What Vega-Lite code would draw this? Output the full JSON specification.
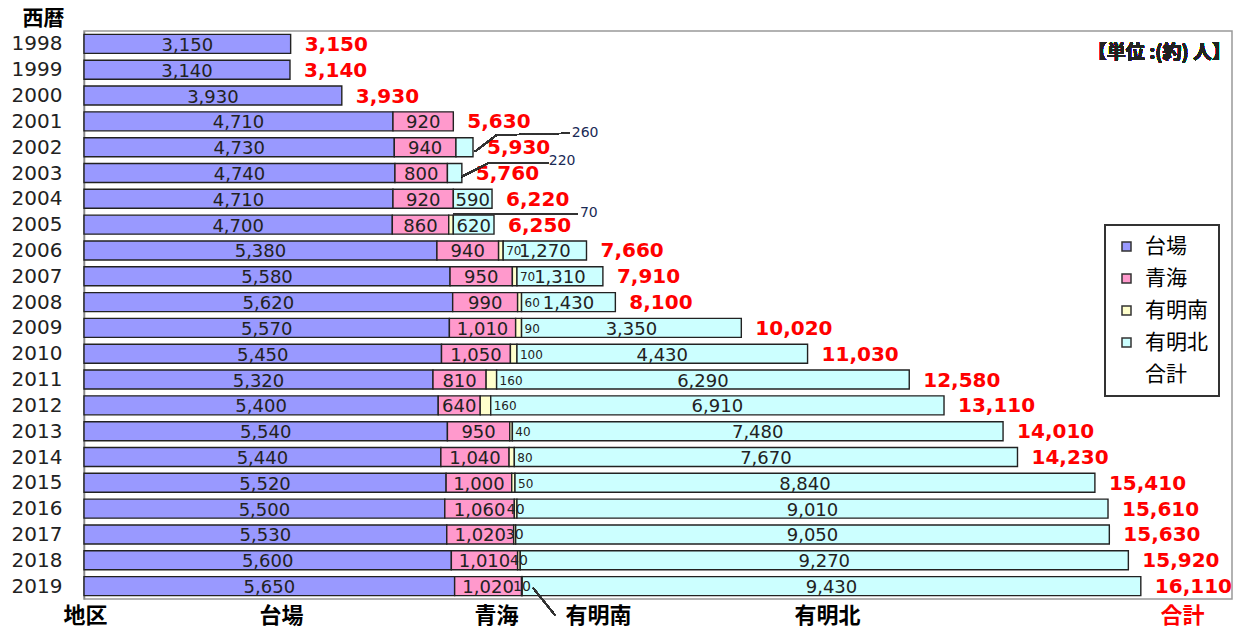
{
  "$schema": "https://vega.github.io/schema/vega-lite/v6.json",
  "width": 1148,
  "height": 568,
  "autosize": "none",
  "padding": {"left": 84, "top": 31, "right": 11, "bottom": 28},
  "background": "white",
  "config": {"view": {"stroke": "#999", "strokeWidth": 1.5}},
  "datasets": {
    "main": [
      {"year": 1998, "area": "台場", "value": 3150},
      {"year": 1999, "area": "台場", "value": 3140},
      {"year": 2000, "area": "台場", "value": 3930},
      {"year": 2001, "area": "台場", "value": 4710},
      {"year": 2001, "area": "青海", "value": 920},
      {"year": 2002, "area": "台場", "value": 4730},
      {"year": 2002, "area": "青海", "value": 940},
      {"year": 2002, "area": "有明北", "value": 260},
      {"year": 2003, "area": "台場", "value": 4740},
      {"year": 2003, "area": "青海", "value": 800},
      {"year": 2003, "area": "有明北", "value": 220},
      {"year": 2004, "area": "台場", "value": 4710},
      {"year": 2004, "area": "青海", "value": 920},
      {"year": 2004, "area": "有明北", "value": 590},
      {"year": 2005, "area": "台場", "value": 4700},
      {"year": 2005, "area": "青海", "value": 860},
      {"year": 2005, "area": "有明南", "value": 70},
      {"year": 2005, "area": "有明北", "value": 620},
      {"year": 2006, "area": "台場", "value": 5380},
      {"year": 2006, "area": "青海", "value": 940},
      {"year": 2006, "area": "有明南", "value": 70},
      {"year": 2006, "area": "有明北", "value": 1270},
      {"year": 2007, "area": "台場", "value": 5580},
      {"year": 2007, "area": "青海", "value": 950},
      {"year": 2007, "area": "有明南", "value": 70},
      {"year": 2007, "area": "有明北", "value": 1310},
      {"year": 2008, "area": "台場", "value": 5620},
      {"year": 2008, "area": "青海", "value": 990},
      {"year": 2008, "area": "有明南", "value": 60},
      {"year": 2008, "area": "有明北", "value": 1430},
      {"year": 2009, "area": "台場", "value": 5570},
      {"year": 2009, "area": "青海", "value": 1010},
      {"year": 2009, "area": "有明南", "value": 90},
      {"year": 2009, "area": "有明北", "value": 3350},
      {"year": 2010, "area": "台場", "value": 5450},
      {"year": 2010, "area": "青海", "value": 1050},
      {"year": 2010, "area": "有明南", "value": 100},
      {"year": 2010, "area": "有明北", "value": 4430},
      {"year": 2011, "area": "台場", "value": 5320},
      {"year": 2011, "area": "青海", "value": 810},
      {"year": 2011, "area": "有明南", "value": 160},
      {"year": 2011, "area": "有明北", "value": 6290},
      {"year": 2012, "area": "台場", "value": 5400},
      {"year": 2012, "area": "青海", "value": 640},
      {"year": 2012, "area": "有明南", "value": 160},
      {"year": 2012, "area": "有明北", "value": 6910},
      {"year": 2013, "area": "台場", "value": 5540},
      {"year": 2013, "area": "青海", "value": 950},
      {"year": 2013, "area": "有明南", "value": 40},
      {"year": 2013, "area": "有明北", "value": 7480},
      {"year": 2014, "area": "台場", "value": 5440},
      {"year": 2014, "area": "青海", "value": 1040},
      {"year": 2014, "area": "有明南", "value": 80},
      {"year": 2014, "area": "有明北", "value": 7670},
      {"year": 2015, "area": "台場", "value": 5520},
      {"year": 2015, "area": "青海", "value": 1000},
      {"year": 2015, "area": "有明南", "value": 50},
      {"year": 2015, "area": "有明北", "value": 8840},
      {"year": 2016, "area": "台場", "value": 5500},
      {"year": 2016, "area": "青海", "value": 1060},
      {"year": 2016, "area": "有明南", "value": 40},
      {"year": 2016, "area": "有明北", "value": 9010},
      {"year": 2017, "area": "台場", "value": 5530},
      {"year": 2017, "area": "青海", "value": 1020},
      {"year": 2017, "area": "有明南", "value": 30},
      {"year": 2017, "area": "有明北", "value": 9050},
      {"year": 2018, "area": "台場", "value": 5600},
      {"year": 2018, "area": "青海", "value": 1010},
      {"year": 2018, "area": "有明南", "value": 40},
      {"year": 2018, "area": "有明北", "value": 9270},
      {"year": 2019, "area": "台場", "value": 5650},
      {"year": 2019, "area": "青海", "value": 1020},
      {"year": 2019, "area": "有明南", "value": 10},
      {"year": 2019, "area": "有明北", "value": 9430}
    ]
  },
  "data": {"name": "main"},
  "transform": [
    {"calculate": "indexof(['台場','青海','有明南','有明北'], datum.area)", "as": "o"},
    {"stack": "value", "groupby": ["year"], "sort": [{"field": "o", "order": "ascending"}], "as": ["x0", "x1"]},
    {"calculate": "(datum.x0 + datum.x1) / 2", "as": "xm"}
  ],
  "encoding": {
    "y": {
      "field": "year",
      "type": "quantitative",
      "scale": {"domain": [1997.5, 2019.5], "reverse": true, "nice": false, "zero": false, "padding": 0},
      "axis": {
        "values": [1998, 1999, 2000, 2001, 2002, 2003, 2004, 2005, 2006, 2007, 2008, 2009, 2010, 2011, 2012, 2013, 2014, 2015, 2016, 2017, 2018, 2019],
        "format": "d",
        "title": "西暦",
        "titleAngle": 0,
        "titleAlign": "left",
        "titleBaseline": "middle",
        "titleX": -62,
        "titleY": -13,
        "titleFont": "Noto Sans CJK JP",
        "titleFontSize": 21,
        "titleFontWeight": "bold",
        "titleColor": "#000",
        "labelFont": "DejaVu Sans",
        "labelFontSize": 20,
        "labelColor": "#222",
        "ticks": false,
        "labelPadding": 22,
        "domainColor": "#888",
        "domainWidth": 1.5,
        "grid": false,
        "labelOverlap": false,
        "labelFlush": false
      }
    }
  },
  "layer": [
    {
      "mark": {"type": "bar", "size": 19, "stroke": "#222", "strokeWidth": 1.4},
      "encoding": {
        "x": {
          "field": "x0",
          "type": "quantitative",
          "scale": {"domain": [0, 17500], "nice": false, "zero": true},
          "axis": {
            "values": [15, 3003, 6280, 7835, 11326, 16738],
            "labelExpr": "datum.value < 1000 ? '地区' : datum.value < 5000 ? '台場' : datum.value < 7000 ? '青海' : datum.value < 9000 ? '有明南' : datum.value < 14000 ? '有明北' : '合計'",
            "title": null,
            "domain": false,
            "ticks": false,
            "grid": false,
            "labelFont": "Noto Sans CJK JP",
            "labelFontSize": 22,
            "labelFontWeight": "bold",
            "labelColor": {"condition": {"test": "datum.value > 16000", "value": "#ff0000"}, "value": "#000"},
            "labelPadding": 6,
            "labelOverlap": false,
            "labelFlush": false,
            "labelBound": false
          }
        },
        "x2": {"field": "x1"},
        "fill": {
          "field": "area",
          "type": "nominal",
          "scale": {
            "domain": ["台場", "青海", "有明南", "有明北", "合計"],
            "range": ["#9999FF", "#FF99CC", "#FFFFCC", "#CCFFFF", "#FFFFFF"]
          },
          "legend": {
            "orient": "none",
            "legendX": 1021,
            "legendY": 194,
            "title": null,
            "symbolType": "square",
            "symbolSize": 81,
            "symbolStrokeColor": "#333",
            "symbolStrokeWidth": 1.5,
            "labelFont": "Noto Sans CJK JP",
            "labelFontSize": 21,
            "labelColor": "#000",
            "labelOffset": 8,
            "rowPadding": 10,
            "padding": 11,
            "strokeColor": "#333",
            "labelExpr": "datum.label + '\u3000'",
            "encode": {
              "symbols": {"update": {"opacity": {"signal": "datum.value === '合計' ? 0 : 1"}}},
              "legend": {"update": {"strokeWidth": {"value": 2}}}
            }
          }
        }
      }
    },
    {
      "transform": [{"filter": "datum.area == '台場' || datum.area == '青海' || (datum.area == '有明北' && datum.year >= 2004)"}],
      "mark": {"type": "text", "font": "DejaVu Sans", "fontSize": 18, "fill": "#222", "dy": 2, "baseline": "middle", "align": "center"},
      "encoding": {
        "x": {"field": "xm", "type": "quantitative"},
        "text": {"field": "value", "type": "quantitative", "format": ","}
      }
    },
    {
      "transform": [{"filter": "datum.area == '有明南' && datum.year >= 2006 && datum.year <= 2015"}],
      "mark": {"type": "text", "font": "DejaVu Sans", "fontSize": 12, "fill": "#222", "dx": 3, "dy": 1, "baseline": "middle", "align": "left"},
      "encoding": {
        "x": {"field": "x1", "type": "quantitative"},
        "text": {"field": "value", "type": "quantitative", "format": ","}
      }
    },
    {
      "transform": [{"filter": "datum.area == '有明南' && datum.year >= 2016"}],
      "mark": {"type": "text", "font": "DejaVu Sans", "fontSize": 14, "fill": "#222", "dy": 1, "baseline": "middle", "align": "center"},
      "encoding": {
        "x": {"field": "xm", "type": "quantitative"},
        "text": {"field": "value", "type": "quantitative", "format": ","}
      }
    },
    {
      "transform": [{"aggregate": [{"op": "sum", "field": "value", "as": "total"}], "groupby": ["year"]}],
      "mark": {"type": "text", "font": "DejaVu Sans", "fontSize": 20, "fontWeight": "bold", "fill": "#ff0000", "dx": 14, "dy": 1, "baseline": "middle", "align": "left"},
      "encoding": {
        "x": {"field": "total", "type": "quantitative"},
        "text": {"field": "total", "type": "quantitative", "format": ","}
      }
    },
    {
      "mark": {"type": "rule", "stroke": "#333", "strokeWidth": 1.2},
      "encoding": {"x": {"datum": 5960}, "y": {"datum": 2002.17}, "x2": {"datum": 6291}, "y2": {"datum": 2001.53}}
    },
    {
      "mark": {"type": "rule", "stroke": "#333", "strokeWidth": 1.2},
      "encoding": {"x": {"datum": 6291}, "y": {"datum": 2001.53}, "x2": {"datum": 7409}, "y2": {"datum": 2001.46}}
    },
    {
      "mark": {"type": "rule", "stroke": "#333", "strokeWidth": 1.2},
      "encoding": {"x": {"datum": 5758}, "y": {"datum": 2003.14}, "x2": {"datum": 6163}, "y2": {"datum": 2002.62}}
    },
    {
      "mark": {"type": "rule", "stroke": "#333", "strokeWidth": 1.2},
      "encoding": {"x": {"datum": 6163}, "y": {"datum": 2002.62}, "x2": {"datum": 7078}, "y2": {"datum": 2002.62}}
    },
    {
      "mark": {"type": "rule", "stroke": "#333", "strokeWidth": 1.2},
      "encoding": {"x": {"datum": 5625}, "y": {"datum": 2004.59}, "x2": {"datum": 7530}, "y2": {"datum": 2004.59}}
    },
    {
      "mark": {"type": "rule", "stroke": "#333", "strokeWidth": 1.2},
      "encoding": {"x": {"datum": 6845}, "y": {"datum": 2019.07}, "x2": {"datum": 7180}, "y2": {"datum": 2020.12}}
    },
    {
      "transform": [{"filter": "datum.year == 2002 && datum.area == '有明北'"}],
      "mark": {"type": "text", "font": "DejaVu Sans", "fontSize": 14, "fill": "#1a2a55", "baseline": "middle", "align": "left"},
      "encoding": {"x": {"datum": 7435}, "y": {"datum": 2001.47}, "text": {"field": "value", "type": "quantitative", "format": ","}}
    },
    {
      "transform": [{"filter": "datum.year == 2003 && datum.area == '有明北'"}],
      "mark": {"type": "text", "font": "DejaVu Sans", "fontSize": 14, "fill": "#1a2a55", "baseline": "middle", "align": "left"},
      "encoding": {"x": {"datum": 7085}, "y": {"datum": 2002.55}, "text": {"field": "value", "type": "quantitative", "format": ","}}
    },
    {
      "transform": [{"filter": "datum.year == 2005 && datum.area == '有明南'"}],
      "mark": {"type": "text", "font": "DejaVu Sans", "fontSize": 14, "fill": "#1a2a55", "baseline": "middle", "align": "left"},
      "encoding": {"x": {"datum": 7560}, "y": {"datum": 2004.53}, "text": {"field": "value", "type": "quantitative", "format": ","}}
    },
    {
      "mark": {"type": "text", "font": "Noto Sans CJK JP", "fontSize": 19, "fontWeight": "bold", "fill": "#222", "baseline": "middle", "align": "right"},
      "encoding": {"x": {"datum": 17485}, "y": {"datum": 1998.35}, "text": {"value": "【単位 :(約) 人】"}}
    }
  ]
}
